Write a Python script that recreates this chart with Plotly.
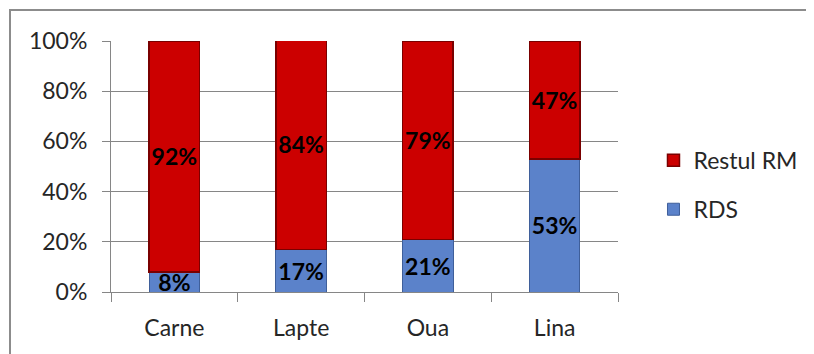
import plotly.graph_objects as go

categories = ["Carne", "Lapte", "Oua", "Lina"]
rds = [8, 17, 21, 53]
restul_rm = [92, 84, 79, 47]
y_ticks = [0, 20, 40, 60, 80, 100]
y_tick_labels = ["0%", "20%", "40%", "60%", "80%", "100%"]

FONT = "Lato, 'Open Sans', sans-serif"

fig = go.Figure()
fig.add_trace(go.Bar(
    x=categories, y=rds, name="RDS", legendgroup="b", legendrank=2,
    marker=dict(color="#5B82CA", line=dict(color="#3F5F9A", width=1)),
    texttemplate="%{y}%", textposition="inside", insidetextanchor="middle",
    textangle=0,
    textfont=dict(family=FONT, size=23, color="black", weight="bold"),
    constraintext="none",
))
fig.add_trace(go.Bar(
    x=categories, y=restul_rm, name="Restul RM", legendgroup="a", legendrank=1,
    marker=dict(color="#CC0000", line=dict(color="#7A0000", width=1.5)),
    texttemplate="%{y}%", textposition="inside", insidetextanchor="middle",
    textangle=0,
    textfont=dict(family=FONT, size=23, color="black", weight="bold"),
    constraintext="none",
))

fig.update_layout(
    width=806, height=346,
    margin=dict(l=103, r=191, t=33, b=62),
    barmode="stack", bargap=0.6,
    paper_bgcolor="white", plot_bgcolor="white",
    font=dict(family=FONT, size=23, color="#262626"),
    uniformtext=dict(mode="show", minsize=10),
    legend=dict(
        x=1.07, y=0.61, xanchor="left", yanchor="top",
        traceorder="grouped", tracegroupgap=16,
        font=dict(family=FONT, size=23, color="#262626"),
        bgcolor="rgba(0,0,0,0)",
    ),
    xaxis=dict(
        showline=True, linecolor="#868686", linewidth=1,
        ticks="outside", ticklen=9, tickcolor="#868686",
        tickson="boundaries", showgrid=False, ticklabelstandoff=15,
    ),
    yaxis=dict(
        range=[0, 100], tickvals=y_ticks, ticktext=y_tick_labels,
        showline=True, linecolor="#868686", linewidth=1,
        ticks="outside", ticklen=8, tickcolor="#868686",
        showgrid=True, gridcolor="#868686", gridwidth=1,
        zeroline=False, ticklabelstandoff=10,
    ),
    shapes=[dict(
        type="rect", xref="paper", yref="paper",
        x0=(1 - 103) / 512, x1=(830 - 103) / 512,
        y0=(284 - 370) / 251, y1=(284 - 2) / 251,
        line=dict(color="#8C8C8C", width=2), fillcolor="rgba(0,0,0,0)",
        layer="below",
    )],
)

fig.write_html("out.html")
